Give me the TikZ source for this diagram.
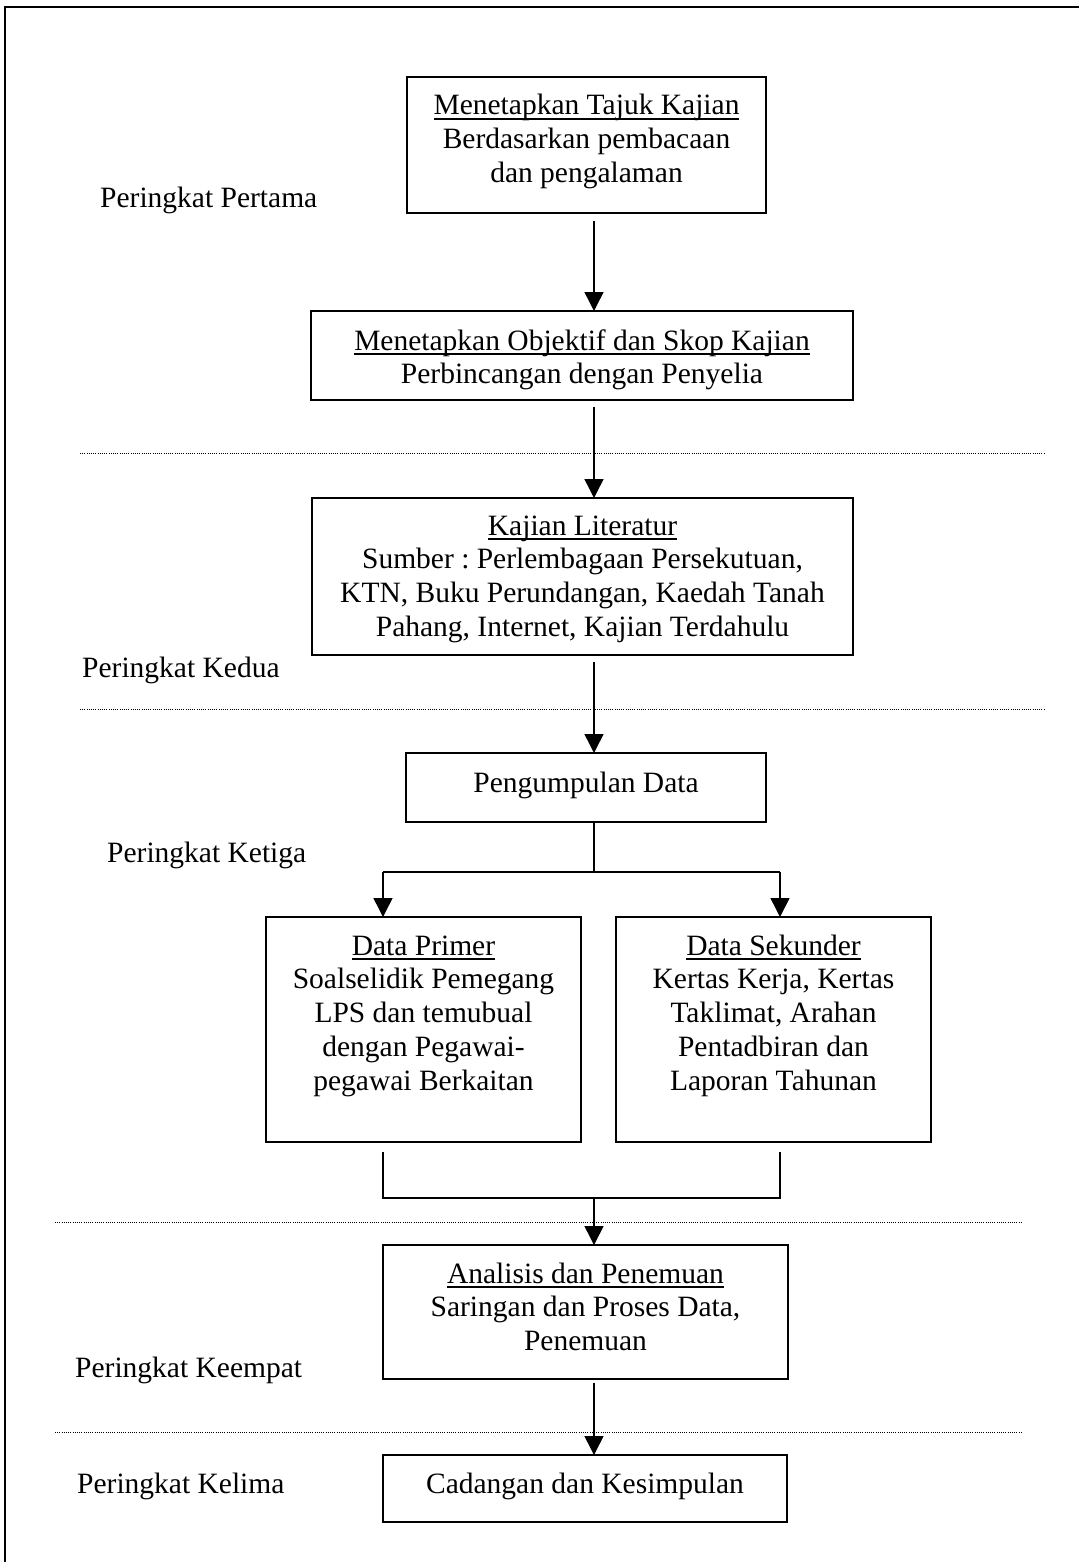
\documentclass[tikz,border=0pt]{standalone}
\usepackage{fontspec}
\setmainfont{Liberation Serif}
\usetikzlibrary{arrows.meta}
\frenchspacing
\newcommand\ulx[1]{\leavevmode\setbox0\hbox{#1}\rlap{\rule[-5pt]{\wd0}{1.8pt}}\box0}
\newcommand\ctext[1]{\parbox[t]{560pt}{\centering #1}}
\begin{document}
\begin{tikzpicture}[x=1pt,y=-1pt,
  box/.style={draw, line width=1.8pt, inner sep=0pt, outer sep=0pt},
  txt/.style={inner sep=0pt, font=\fontsize{29.5}{33.8}\selectfont},
  conn/.style={line width=1.5pt},
  arr/.style={conn, -{Triangle[width=19pt,length=19pt]}},
  sepline/.style={line width=1pt, dash pattern=on 1pt off 1.2pt}]
\useasboundingbox (0,0) rectangle (1079,1562);
% frame
\draw[line width=2pt] (5,1562) |- (1079,7);
% separators
\draw[sepline] (80,453) -- (1045,453);
\draw[sepline] (80,709) -- (1045,709);
\draw[sepline] (55,1222) -- (1022,1222);
\draw[sepline] (55,1432) -- (1022,1432);
% boxes
\node[box, minimum width=359pt, minimum height=136pt] (b1) at (586.5,145) {};
\node[box, minimum width=542pt, minimum height=89pt] (b2) at (582,355.5) {};
\node[box, minimum width=541pt, minimum height=157pt] (b3) at (582.5,576.5) {};
\node[box, minimum width=360pt, minimum height=69pt] (b4) at (586,787.5) {};
\node[box, minimum width=315pt, minimum height=225pt] (b5) at (423.5,1029.5) {};
\node[box, minimum width=315pt, minimum height=225pt] (b6) at (773.5,1029.5) {};
\node[box, minimum width=405pt, minimum height=134pt] (b7) at (585.5,1312) {};
\node[box, minimum width=404pt, minimum height=67pt] (b8) at (585,1488.5) {};
% box texts
\node[txt, anchor=base] (t1) at (586.5,115) {\ctext{\ulx{Menetapkan Tajuk Kajian}\\Berdasarkan pembacaan\\dan pengalaman}};
\node[txt, anchor=base] (t2) at (582,350) {\ctext{\ulx{Menetapkan Objektif dan Skop Kajian}\\Perbincangan dengan Penyelia}};
\node[txt, anchor=base] (t3) at (582.5,535) {\ctext{\ulx{Kajian Literatur}\\Sumber : Perlembagaan Persekutuan,\\KTN, Buku Perundangan, Kaedah Tanah\\Pahang, Internet, Kajian Terdahulu}};
\node[txt, anchor=base] (t4) at (586,792) {Pengumpulan Data};
\node[txt, anchor=base] (t5) at (423.5,955) {\ctext{\ulx{Data Primer}\\Soalselidik Pemegang\\LPS dan temubual\\dengan Pegawai-\\pegawai Berkaitan}};
\node[txt, anchor=base] (t6) at (773.5,955) {\ctext{\ulx{Data Sekunder}\\Kertas Kerja, Kertas\\Taklimat, Arahan\\Pentadbiran dan\\Laporan Tahunan}};
\node[txt, anchor=base] (t7) at (585.5,1283) {\ctext{\ulx{Analisis dan Penemuan}\\Saringan dan Proses Data,\\Penemuan}};
\node[txt, anchor=base] (t8) at (585,1493) {Cadangan dan Kesimpulan};
% stage labels
\node[txt, anchor=base west] (p1) at (100,208) {Peringkat Pertama};
\node[txt, anchor=base west] (p2) at (82,677) {Peringkat Kedua};
\node[txt, anchor=base west] (p3) at (107,862) {Peringkat Ketiga};
\node[txt, anchor=base west] (p4) at (75,1377) {Peringkat Keempat};
\node[txt, anchor=base west] (p5) at (77,1493) {Peringkat Kelima};
% connectors
\coordinate (ax) at (594,0);
\coordinate (sl) at (383,872);
\coordinate (sr) at (780,872);
\coordinate (ml) at (383,1198);
\coordinate (mr) at (780,1198);
\draw[arr] ([yshift=-8pt]b1.south -| ax) -- (b2.north -| ax);
\draw[arr] ([yshift=-7pt]b2.south -| ax) -- (b3.north -| ax);
\draw[arr] ([yshift=-7pt]b3.south -| ax) -- (b4.north -| ax);
\draw[conn] (b4.south -| ax) -- (ax |- sl);
\draw[conn] (sl) -- (sr);
\draw[arr] (sl) -- (sl |- b5.north);
\draw[arr] (sr) -- (sr |- b6.north);
\draw[conn] ([yshift=-10pt]b5.south -| ml) -- (ml) -- (mr) -- ([yshift=-10pt]b6.south -| mr);
\draw[arr] (ax |- ml) -- (b7.north -| ax);
\draw[arr] ([yshift=-4pt]b7.south -| ax) -- (b8.north -| ax);
\end{tikzpicture}
\end{document}
